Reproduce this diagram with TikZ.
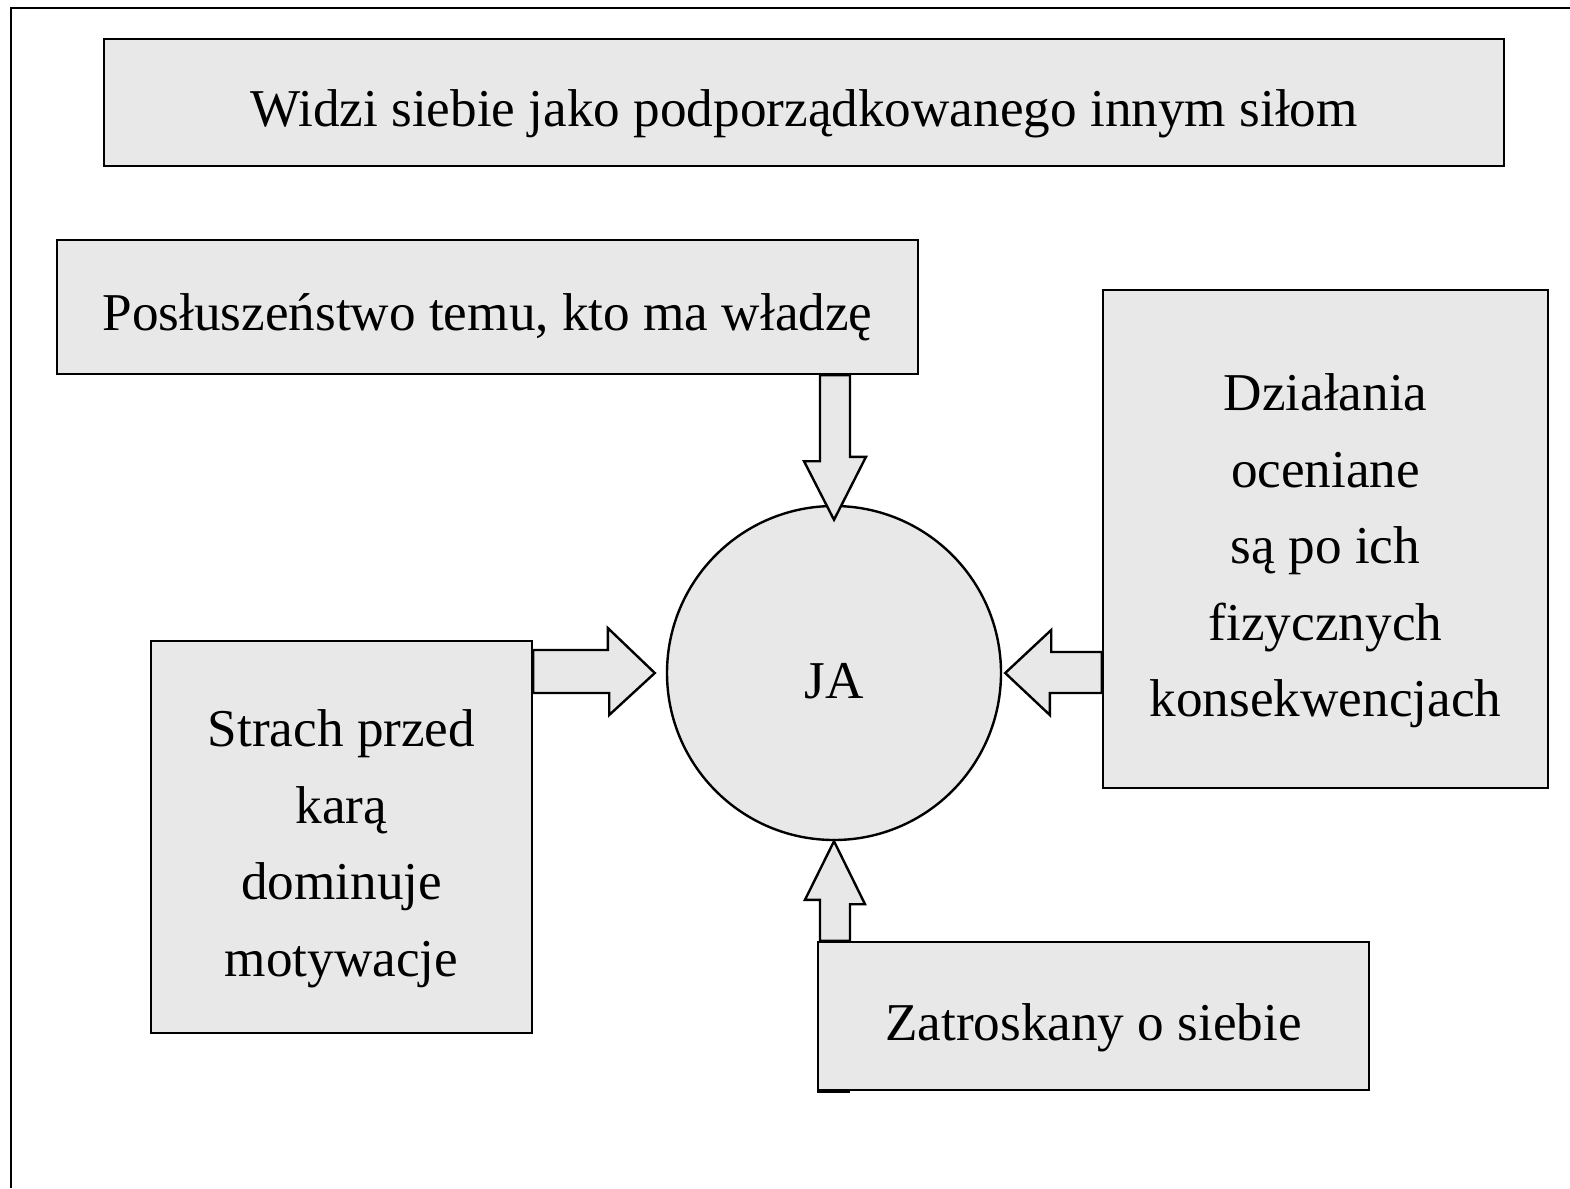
\documentclass[tikz,border=0pt]{standalone}
\usepackage{fontspec}
\setmainfont{Liberation Serif}
\usepackage{xcolor}
\usepackage{tikz}
\usetikzlibrary{calc}

\definecolor{boxgray}{RGB}{232,232,232}

\tikzset{
    box/.style={draw, fill=boxgray, line width=2.4pt, inner sep=0pt, align=center,
        font=\fontsize{53.2}{76.5}\selectfont, text height=47pt, text depth=0pt},
    fatarrow/.style={draw, fill=boxgray, line width=2.4pt, line join=miter},
}

\begin{document}
\begin{tikzpicture}[x=1pt, y=-1pt]
            \useasboundingbox (0, 0) rectangle (1570, 1188);
            \draw[line width=2.4pt] (11, 1188) -- (11, 8) -- (1570, 8); % frame

            \node[box, minimum width=1400pt, minimum height=127pt] (top) at (804, 102.5)
                {Widzi siebie jako podporządkowanego innym siłom};
            \node[box, minimum width=861pt, minimum height=134pt] (posl) at (487.5, 307)
                {Posłuszeństwo temu, kto ma władzę};
            \node[box, minimum width=445pt, minimum height=498pt, text height=355pt]
                (dzial) at (1325.5, 539)
                {Działania\\ oceniane\\ są po ich\\ fizycznych\\ konsekwencjach};
            \node[box, minimum width=381pt, minimum height=392pt, text height=278pt]
                (strach) at (341.5, 837)
                {Strach przed\\ karą\\ dominuje\\ motywacje};
            \node[box, minimum width=551pt, minimum height=148pt, text height=49pt] (zat) at (1093.5, 1016)
                {Zatroskany o siebie};
            \node[box, circle, minimum size=334pt, text height=51pt] (ja) at (834, 673) {JA};

            \draw[fatarrow] ($(ja.north)+(0,15)$) -- ++(32,-63) -- ++(-16,0)
                -- ($(posl.south -| ja.north)+(16,0)$) -- ++(-30,0) -- ++(0,86)
                -- ++(-16,0) -- cycle; % posl-ja
            \draw[fatarrow] (ja.south) -- ++(31,63) -- ++(-15,0)
                -- ($(zat.north -| ja.south)+(16,0)$) -- ++(-30,0) -- ++(0,-41)
                -- ++(-15,0) -- cycle; % zat-ja
            \draw[fatarrow] ($(ja.west)+(-11,0)$) -- ++(-47,-45) -- ++(0,22)
                -- ($(strach.east |- ja.west)+(0,-23)$) -- ++(0,43) -- ++(76,0)
                -- ++(0,22) -- cycle; % strach-ja
            \draw[fatarrow] ($(ja.east)+(3,0)$) -- ++(46,-43) -- ++(0,22)
                -- ($(dzial.west |- ja.east)+(0,-21)$) -- ++(0,41) -- ++(-52,0)
                -- ++(0,22) -- cycle; % dzial-ja

            \draw[line width=4pt] (zat.south west) -- ++(33,0); % stub
        \end{tikzpicture}
\end{document}
